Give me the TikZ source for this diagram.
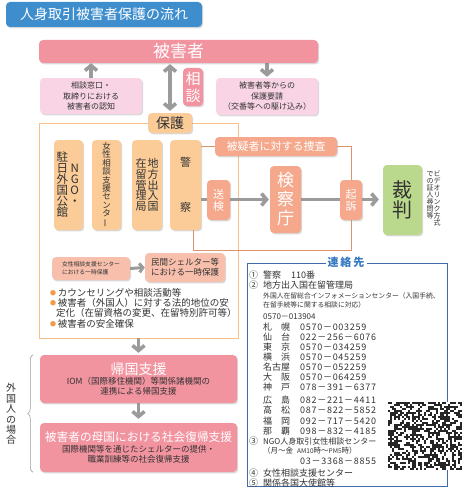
\documentclass[tikz,border=0pt]{standalone}
\usepackage{fontspec}
\setmainfont{Noto Sans CJK JP}
\usepackage{xcolor}
\usepackage{graphicx}
\usetikzlibrary{arrows.meta, positioning, shadows, decorations.pathreplacing, backgrounds}

\definecolor{titleblue}{RGB}{62,142,206}
\definecolor{victimpink}{RGB}{242,148,160}
\definecolor{lightpink}{RGB}{249,212,228}
\definecolor{protorange}{RGB}{251,204,152}
\definecolor{framebuff}{RGB}{248,192,136}
\definecolor{salmon}{RGB}{245,168,140}
\definecolor{palesalmon}{RGB}{248,192,172}
\definecolor{looporange}{RGB}{224,146,110}
\definecolor{courtgreen}{RGB}{186,217,140}
\definecolor{arrowgrey}{RGB}{155,155,155}
\definecolor{contactblue}{RGB}{64,106,168}
\definecolor{contacttitle}{RGB}{52,120,195}
\definecolor{bulletorange}{RGB}{243,154,74}
\definecolor{textdark}{RGB}{50,50,50}

\newcommand{\fsz}[2]{\fontsize{#1}{#2}\selectfont}
\newcommand{\vstack}[1]{\parbox{1em}{\centering #1}}
\newcommand{\vbar}{\rotatebox[origin=c]{90}{ー}}
\newcommand{\bul}{\textcolor{bulletorange}{\raisebox{1pt}{\fsz{6}{6}●}}\,}

\begin{document}
\begin{tikzpicture}[x=1pt, y=-1pt, >={Straight Barb[length=5pt, width=12pt]},
    roundbox/.style={rounded corners=4pt, inner sep=0pt, align=center,
        drop shadow={shadow xshift=1.2pt, shadow yshift=-1.4pt, opacity=0.3}},
    pinkbox/.style={roundbox, fill=victimpink, text=white},
    softbox/.style={roundbox, fill=lightpink, text=textdark, font=\fsz{8}{10.5}},
    orangebox/.style={roundbox, fill=protorange, text=textdark},
    salmonbox/.style={roundbox, fill=salmon, text=white},
    peachbox/.style={roundbox, fill=palesalmon, text=textdark},
    gline/.style={draw=arrowgrey, line width=3.6pt},
    loopline/.style={draw=looporange, line width=0.7pt},
    contact/.style={anchor=west, inner sep=0pt, text=textdark, font=\fsz{9}{10}},
    telno/.style={contact, font=\fsz{9}{10}\addfontfeature{LetterSpace=8}}]
\useasboundingbox (0,0) rectangle (470,495);

% Title
\node[roundbox, fill=titleblue, text=white, font=\fsz{14}{14}, minimum width=196, minimum height=25] (title) at (104,14.5) {人身取引被害者保護の流れ};

% Victim and first contact
\node[pinkbox, font=\fsz{17}{17}, minimum width=279, minimum height=23] (victim) at (178.5,51.5) {被害者};
\node[softbox, minimum width=102, minimum height=36] (recog) at (91,96) {相談窓口・\\取締りにおける\\被害者の認知};
\node[pinkbox, font=\fsz{15}{17}, minimum width=20, minimum height=38] (consult) at (193,87) {相\\談};
\node[softbox, minimum width=102, minimum height=37] (request) at (267,96.5) {被害者等からの\\保護要請\\（交番等への駆け込み）};
\node[orangebox, font=\fsz{14}{14}, minimum width=44, minimum height=20] (protect) at (170,123) {保護};

% Protecting bodies
\node[orangebox, font=\fsz{11.5}{11}, minimum width=29, minimum height=90] (ngo) at (68.5,185) {\vstack{駐\\日\\外\\国\\公\\館}\hspace{1pt}\vstack{N\\G\\O\\・}};
\node[orangebox, font=\fsz{8.5}{8.4}, minimum width=29, minimum height=90] (wcsc) at (106.5,185) {女\\性\\相\\談\\支\\援\\セ\\ン\\タ\\\vbar};
\node[orangebox, font=\fsz{11}{10.6}, minimum width=30, minimum height=90] (immig) at (147,185) {\vstack{在\\留\\管\\理\\局}\hspace{1pt}\vstack{地\\方\\出\\入\\国}};
\node[orangebox, font=\fsz{11}{11}, minimum width=31, minimum height=90] (police) at (185.5,185) {警\\[34pt]察};

% Investigation and trial
\node[salmonbox, font=\fsz{11}{11}, minimum width=122, minimum height=19] (suspect) at (276,146.5) {被疑者に対する捜査};
\node[salmonbox, font=\fsz{11}{12}, minimum width=23, minimum height=40] (sokken) at (218.5,200) {送\\検};
\node[salmonbox, font=\fsz{17}{19}, minimum width=31, minimum height=67] (prosec) at (285.5,199.5) {検\\察\\庁};
\node[salmonbox, font=\fsz{11}{12}, minimum width=22, minimum height=40] (kiso) at (351,200) {起\\訴};
\node[roundbox, fill=courtgreen, text=textdark, font=\fsz{20}{20}, minimum width=39, minimum height=70] (court) at (402.5,200) {裁\\判};
\node[anchor=north, inner sep=0pt, text=textdark, font=\fsz{7}{6.9}] (video) at (433.5,171)
    {\parbox[t]{1em}{\centering で\\の\\証\\人\\尋\\問\\等}\parbox[t]{1em}{\centering ビ\\デ\\オ\\リ\\ン\\ク\\方\\式}};

% Temporary shelter and notes
\node[peachbox, align=left, font=\fsz{5.8}{8}, minimum width=78, minimum height=23] (tempa) at (91,268.5) {女性相談支援センター\\における一時保護};
\node[peachbox, font=\fsz{8.5}{10.5}, minimum width=80, minimum height=29] (tempb) at (185,267.5) {民間シェルター等\\における一時保護};
\node[anchor=north west, inner sep=0pt, align=left, text=textdark, font=\fsz{9.5}{10.3}] (notes) at (50,288)
    {\bul カウンセリングや相談活動等\\\bul 被害者（外国人）に対する法的地位の安\\\hspace{6pt}定化（在留資格の変更、在留特別許可等）\\\bul 被害者の安全確保};

% Support for foreign victims
\node[pinkbox, text=textdark, font=\fsz{8.5}{10}, minimum width=197, minimum height=48] (ret) at (138.5,379)
    {\textcolor{white}{\fsz{14}{14}帰国支援}\\[0.5pt]IOM（国際移住機関）等関係諸機関の\\連携による帰国支援};
\node[pinkbox, text=textdark, font=\fsz{8.5}{10}, minimum width=197, minimum height=49] (rehab) at (138.5,447.5)
    {\textcolor{white}{\fsz{11.7}{12}被害者の母国における社会復帰支援}\\[1pt]国際機関等を通じたシェルターの提供・\\職業訓練等の社会復帰支援};
\draw[arrowgrey, line width=0.6pt, decorate, decoration={brace, amplitude=5pt}] ([xshift=-7pt]rehab.south west) -- ([xshift=-7pt]ret.north west);
\node[inner sep=0pt, align=center, text=textdark, font=\fsz{10}{10.4}] (foreign) at (11,414) {外\\国\\人\\の\\場\\合};

% Connectors
\begin{scope}[on background layer]
    \node[draw=framebuff, line width=0.9pt, minimum width=199, minimum height=215, inner sep=0pt] (frame) at (138.5,230.5) {};
    \draw[gline, ->] (recog.north) -- (recog.north |- victim.south);
    \draw[gline, <->, shorten <=1pt, shorten >=2pt] (protect.north |- victim.south) -- (protect.north);
    \draw[gline, ->, shorten >=1pt] (request.north |- victim.south) -- (request.north);
    \draw[gline, ->, shorten >=1pt] (police.east |- prosec.west) -- (prosec.west);
    \draw[gline, ->, shorten >=4pt] (prosec.east) -- (prosec.east -| court.west);
    \draw[gline, line width=3pt, -{Straight Barb[length=3.5pt, width=9pt]}] (tempa.east) -- (tempb.west);
    \draw[gline, ->, shorten >=2pt] (frame.south) -- (ret.north);
    \draw[gline, ->, shorten >=4pt] (ret.south) -- (rehab.north);
    \draw[loopline] (police.east |- suspect.west) -- (suspect.west);
    \draw[loopline] (suspect.east) -| (kiso.north);
    \draw[loopline] (kiso.south) -- ++(0,30) -| ([xshift=7.5pt]police.south);
\end{scope}

% Contacts
\node[draw=contactblue, line width=0.9pt, minimum width=200, minimum height=223, inner sep=0pt] (contactbox) at (347,374.5) {};
\node[fill=white, text=contacttitle, font=\bfseries\fsz{11}{11}, inner xsep=2pt, inner ysep=0pt] (contacthead) at ([xshift=-1pt]contactbox.north) {連\hspace{2pt}絡\hspace{2pt}先};
\node[contact] (n1) at (249,275) {①};
\node[contact] (police-tel) at (263,275) {警察\hspace{10pt}110番};
\node[contact] (n2) at (249,285) {②};
\node[contact] (immig-tel) at (263,285) {地方出入国在留管理局};
\node[contact, font=\fsz{6.8}{8}] (info-a) at (263,296) {外国人在留総合インフォメーションセンター（入国手続、};
\node[contact, font=\fsz{6.8}{8}] (info-b) at (263,305) {在留手続等に関する相談に対応）};
\node[contact, font=\fsz{8}{9}] (info-tel) at (263,317) {0570－013904};
\foreach \yy/\city/\num in {327/札　幌/0570－003259, 337/仙　台/022－256－6076, 347/東　京/0570－034259,
    357/横　浜/0570－045259, 367/名古屋/0570－052259, 377/大　阪/0570－064259, 387/神　戸/078－391－6377,
    400/広　島/082－221－4411, 410/高　松/087－822－5852, 421/福　岡/092－717－5420, 431/那　覇/098－832－4185} {
    \node[contact] (city-\yy) at (263,\yy) {\city};
    \node[telno] (tel-\yy) at (300,\yy) {\num};
}
\node[contact] (n3) at (249,441) {③};
\node[contact, font=\fsz{8}{9}] (ngo-tel) at (263,441) {NGO人身取引女性相談センター};
\node[contact, font=\fsz{7.5}{9}] (hours) at (263,451) {（月〜金\hspace{4pt}{\fsz{6.5}{8}AM10}時〜{\fsz{6.5}{8}PM5}時）};
\node[telno] (ngo-num) at (300,461) {03－3368－8855};
\node[contact] (n4) at (249,473) {④};
\node[contact] (wcsc-tel) at (263,473) {女性相談支援センター};
\node[contact] (n5) at (249,483) {⑤};
\node[contact] (embassy) at (263,483) {関係各国大使館等};

% Code pattern
\node[fill=white, minimum width=74, minimum height=68, inner sep=0pt] (qr) at (425,436) {};
\pgfmathsetseed{4711}
\foreach \i in {0,...,36} {
    \foreach \j in {0,...,33} {
        \pgfmathrandominteger{\qrbit}{0}{1}
        \ifnum\qrbit=1 \fill[black!85] ([shift={(2*\i,2*\j)}]qr.north west) rectangle ++(2,2); \fi
    }
}
\end{tikzpicture}
\end{document}
